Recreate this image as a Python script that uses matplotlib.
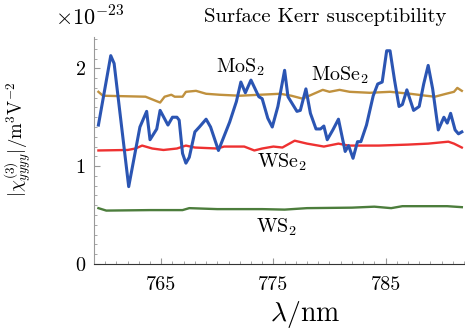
import matplotlib
matplotlib.use('Agg')
import matplotlib.pyplot as plt
from matplotlib.ticker import MultipleLocator

plt.rcParams['font.family'] = ['cmr10', 'DejaVu Serif']
plt.rcParams['mathtext.fontset'] = 'cm'
plt.rcParams['axes.unicode_minus'] = False

# MoS2 (blue, noisy)
wl_mos2 = [759.4, 760.5, 760.8, 762.1, 763.1, 763.7, 764.0, 764.6, 764.9, 765.6,
           766.0, 766.4, 766.6, 766.9, 767.2, 767.5, 768.0, 768.4, 769.0, 769.4,
           770.1, 771.1, 771.7, 772.1, 772.5, 773.0, 773.7, 774.0, 774.5, 774.9,
           775.4, 776.0, 776.3, 777.1, 777.4, 777.9, 778.3, 778.8, 779.2, 779.5,
           779.8, 780.3, 780.8, 781.4, 781.7, 782.1, 782.5, 782.8, 783.3, 783.9,
           784.3, 784.7, 785.1, 785.4, 785.8, 786.2, 786.5, 786.9, 787.5, 788.0,
           788.4, 788.8, 789.2, 789.7, 790.2, 790.5, 790.8, 791.2, 791.5, 791.8]
chi_mos2 = [1.42, 2.13, 2.05, 0.79, 1.40, 1.56, 1.27, 1.38, 1.57, 1.42,
            1.50, 1.50, 1.47, 1.13, 1.03, 1.09, 1.35, 1.40, 1.48, 1.40,
            1.16, 1.45, 1.66, 1.86, 1.75, 1.88, 1.71, 1.69, 1.49, 1.40,
            1.61, 1.98, 1.71, 1.56, 1.57, 1.79, 1.54, 1.38, 1.38, 1.41,
            1.27, 1.37, 1.48, 1.15, 1.21, 1.08, 1.25, 1.25, 1.42, 1.72,
            1.84, 1.86, 2.18, 2.18, 1.88, 1.61, 1.63, 1.78, 1.57, 1.61,
            1.84, 2.03, 1.79, 1.37, 1.50, 1.44, 1.54, 1.37, 1.33, 1.35]

# MoSe2 (gold)
wl_mose2 = [759.4, 759.8, 763.6, 764.9, 765.3, 765.9, 766.2, 766.9, 767.2, 768.1,
            769.0, 770.2, 772.0, 775.6, 776.6, 777.6, 778.2, 779.4, 780.0, 780.9,
            781.8, 783.6, 785.4, 787.2, 788.6, 789.4, 790.4, 791.1, 791.4, 791.8]
chi_mose2 = [1.76, 1.72, 1.71, 1.65, 1.71, 1.73, 1.71, 1.71, 1.76, 1.77,
             1.74, 1.73, 1.72, 1.74, 1.72, 1.69, 1.72, 1.78, 1.76, 1.78,
             1.76, 1.75, 1.76, 1.74, 1.72, 1.71, 1.74, 1.76, 1.80, 1.77]

# WSe2 (red)
wl_wse2 = [759.4, 762.0, 762.7, 763.3, 764.2, 765.2, 766.4, 767.2, 768.0, 770.0,
           770.6, 772.4, 773.3, 774.0, 775.0, 775.8, 776.9, 778.0, 779.5, 780.8,
           781.7, 784.4, 787.0, 788.8, 790.6, 791.1, 791.8]
chi_wse2 = [1.16, 1.165, 1.18, 1.21, 1.18, 1.165, 1.18, 1.21, 1.19, 1.18,
            1.20, 1.20, 1.16, 1.18, 1.20, 1.19, 1.26, 1.23, 1.20, 1.23,
            1.21, 1.21, 1.22, 1.23, 1.25, 1.23, 1.19]

# WS2 (green)
wl_ws2 = [759.4, 760.1, 764.0, 766.9, 767.5, 770.0, 774.0, 776.0, 778.0, 782.0,
          784.0, 785.5, 786.5, 788.0, 790.5, 791.8]
chi_ws2 = [0.57, 0.545, 0.55, 0.55, 0.57, 0.56, 0.56, 0.555, 0.57, 0.575,
           0.585, 0.57, 0.59, 0.59, 0.59, 0.58]

labels = ['MoS$_2$', 'MoSe$_2$', 'WSe$_2$', 'WS$_2$']
label_x = [772.1, 780.9, 775.8, 775.3]
label_y = [2.01, 1.93, 1.04, 0.37]

fig = plt.figure(figsize=(4.65, 3.34), dpi=100)
ax = fig.add_axes([0.202, 0.21, 0.796, 0.679])

ax.plot(wl_mose2, chi_mose2, color='#c0913e', lw=1.7)
ax.plot(wl_wse2, chi_wse2, color='#ee3131', lw=1.7)
ax.plot(wl_ws2, chi_ws2, color='#4c7d3c', lw=1.7)
ax.plot(wl_mos2, chi_mos2, color='#2b55b3', lw=2.2)

for t, x, y in zip(labels, label_x, label_y):
    ax.text(x, y, t, fontsize=14.5, ha='center', va='center')

ax.set_xlim(759, 792)
ax.set_ylim(0, 2.32)
ax.set_xticks([765, 775, 785])
ax.set_yticks([0, 1, 2])
ax.xaxis.set_minor_locator(MultipleLocator(1))
ax.yaxis.set_minor_locator(MultipleLocator(0.1))
ax.tick_params(which='both', direction='in', colors='#999999', labelcolor='black', labelsize=14.5)
ax.tick_params(which='major', length=4)
ax.tick_params(which='minor', length=2)
ax.tick_params(axis='x', pad=9)
ax.tick_params(axis='y', pad=6)
for s in ['top', 'right']:
    ax.spines[s].set_visible(False)
ax.spines['left'].set_color('#999999')
ax.spines['bottom'].set_color('#333333')

ax.set_xlabel(r'$\lambda/\mathrm{nm}$', fontsize=20)
ax.xaxis.set_label_coords(0.57, -0.155)
ax.set_ylabel(r'$|\chi^{(3)}_{yyyy}|/\mathrm{m}^3\mathrm{V}^{-2}$', fontsize=13.5)
ax.yaxis.set_label_coords(-0.165, 0.55)

fig.text(0.118, 0.949, r'$\times10^{-23}$', fontsize=16, ha='left', va='center')
fig.text(0.699, 0.949, 'Surface Kerr susceptibility', fontsize=15, ha='center', va='center')

fig.savefig('out.png', dpi=100)
